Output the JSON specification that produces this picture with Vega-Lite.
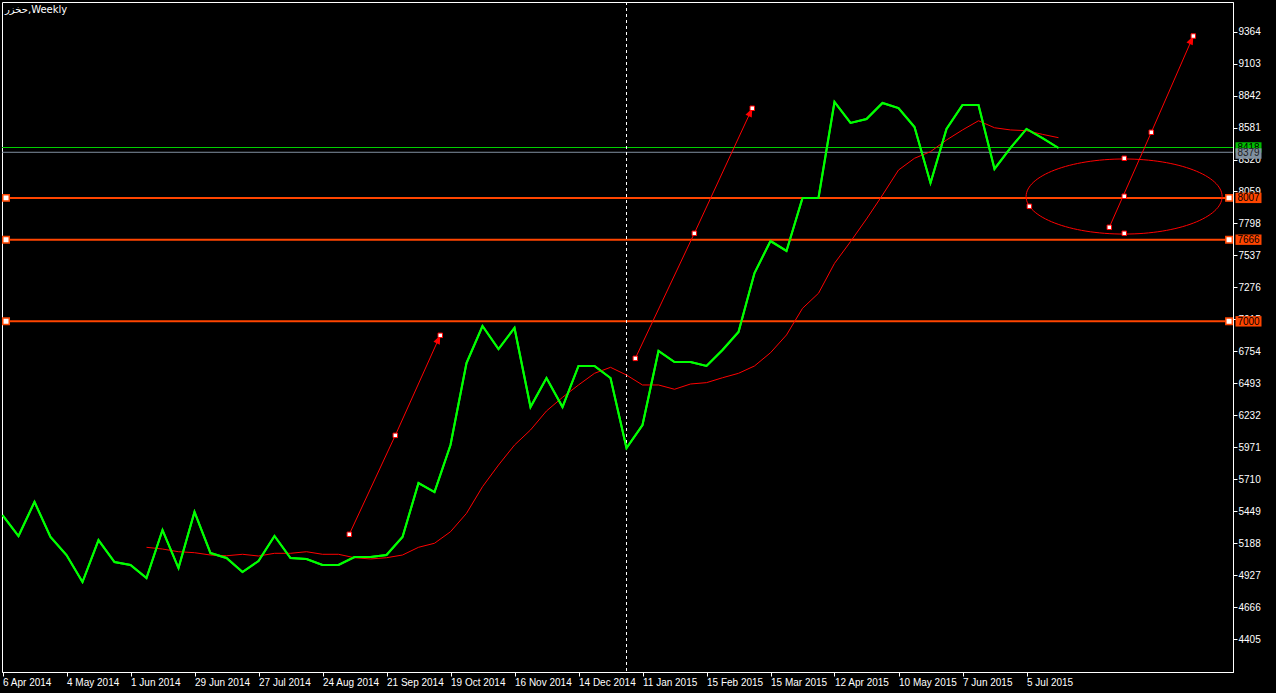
{
  "$schema": "https://vega.github.io/schema/vega-lite/v6.json",
  "width": 1231,
  "height": 670,
  "autosize": {"type": "none"},
  "padding": {"left": 2, "top": 2, "right": 43, "bottom": 21},
  "background": "#000000",
  "config": {
    "view": {"stroke": "#ffffff", "strokeWidth": 1, "fill": "#000000"},
    "axis": {"grid": false, "domainColor": "#ffffff", "tickColor": "#ffffff", "labelColor": "#ffffff", "labelFont": "Liberation Sans", "labelFontSize": 10, "tickSize": 4, "labelPadding": 1, "labelOverlap": false, "labelFlush": false, "labelBound": false, "title": null}
  },
  "title": {"text": "حخزر,Weekly", "anchor": "start", "frame": "group", "orient": "top", "baseline": "top", "offset": -13, "dx": 3, "color": "#ffffff", "font": "DejaVu Sans", "fontSize": 10, "fontWeight": "normal"},
  "datasets": {
    "price": [
      {"i": 0, "date": "2014-04-06", "v": 5420}, {"i": 1, "date": "2014-04-13", "v": 5249}, {"i": 2, "date": "2014-04-20", "v": 5527}, {"i": 3, "date": "2014-04-27", "v": 5241},
      {"i": 4, "date": "2014-05-04", "v": 5094}, {"i": 5, "date": "2014-05-11", "v": 4874}, {"i": 6, "date": "2014-05-18", "v": 5216}, {"i": 7, "date": "2014-05-25", "v": 5037},
      {"i": 8, "date": "2014-06-01", "v": 5013}, {"i": 9, "date": "2014-06-08", "v": 4907}, {"i": 10, "date": "2014-06-15", "v": 5298}, {"i": 11, "date": "2014-06-22", "v": 4988},
      {"i": 12, "date": "2014-06-29", "v": 5445}, {"i": 13, "date": "2014-07-06", "v": 5110}, {"i": 14, "date": "2014-07-13", "v": 5070}, {"i": 15, "date": "2014-07-20", "v": 4955},
      {"i": 16, "date": "2014-07-27", "v": 5045}, {"i": 17, "date": "2014-08-03", "v": 5249}, {"i": 18, "date": "2014-08-10", "v": 5070}, {"i": 19, "date": "2014-08-17", "v": 5062},
      {"i": 20, "date": "2014-08-24", "v": 5013}, {"i": 21, "date": "2014-08-31", "v": 5013}, {"i": 22, "date": "2014-09-07", "v": 5078}, {"i": 23, "date": "2014-09-14", "v": 5078},
      {"i": 24, "date": "2014-09-21", "v": 5094}, {"i": 25, "date": "2014-09-28", "v": 5241}, {"i": 26, "date": "2014-10-05", "v": 5681}, {"i": 27, "date": "2014-10-12", "v": 5608},
      {"i": 28, "date": "2014-10-19", "v": 5991}, {"i": 29, "date": "2014-10-26", "v": 6660}, {"i": 30, "date": "2014-11-02", "v": 6962}, {"i": 31, "date": "2014-11-09", "v": 6774},
      {"i": 32, "date": "2014-11-16", "v": 6946}, {"i": 33, "date": "2014-11-23", "v": 6301}, {"i": 34, "date": "2014-11-30", "v": 6538}, {"i": 35, "date": "2014-12-07", "v": 6301},
      {"i": 36, "date": "2014-12-14", "v": 6636}, {"i": 37, "date": "2014-12-21", "v": 6636}, {"i": 38, "date": "2014-12-28", "v": 6538}, {"i": 39, "date": "2015-01-04", "v": 5967},
      {"i": 40, "date": "2015-01-11", "v": 6154}, {"i": 41, "date": "2015-01-25", "v": 6758}, {"i": 42, "date": "2015-02-01", "v": 6668}, {"i": 43, "date": "2015-02-08", "v": 6668},
      {"i": 44, "date": "2015-02-15", "v": 6636}, {"i": 45, "date": "2015-02-22", "v": 6766}, {"i": 46, "date": "2015-03-01", "v": 6913}, {"i": 47, "date": "2015-03-08", "v": 7394},
      {"i": 48, "date": "2015-03-15", "v": 7655}, {"i": 49, "date": "2015-03-22", "v": 7574}, {"i": 50, "date": "2015-03-29", "v": 8006}, {"i": 51, "date": "2015-04-05", "v": 8006},
      {"i": 52, "date": "2015-04-12", "v": 8789}, {"i": 53, "date": "2015-04-19", "v": 8618}, {"i": 54, "date": "2015-04-26", "v": 8650}, {"i": 55, "date": "2015-05-03", "v": 8781},
      {"i": 56, "date": "2015-05-10", "v": 8740}, {"i": 57, "date": "2015-05-17", "v": 8585}, {"i": 58, "date": "2015-05-24", "v": 8128}, {"i": 59, "date": "2015-05-31", "v": 8569},
      {"i": 60, "date": "2015-06-07", "v": 8765}, {"i": 61, "date": "2015-06-14", "v": 8765}, {"i": 62, "date": "2015-06-21", "v": 8243}, {"i": 63, "date": "2015-06-28", "v": 8414},
      {"i": 64, "date": "2015-07-05", "v": 8569}, {"i": 65, "date": "2015-07-12", "v": 8495}, {"i": 66, "date": "2015-07-19", "v": 8414}
    ],
    "ma": [
      {"i": 9, "v": 5157}, {"i": 10, "v": 5143}, {"i": 11, "v": 5121}, {"i": 12, "v": 5113}, {"i": 13, "v": 5094}, {"i": 14, "v": 5088},
      {"i": 15, "v": 5100}, {"i": 16, "v": 5086}, {"i": 17, "v": 5108}, {"i": 18, "v": 5108}, {"i": 19, "v": 5121}, {"i": 20, "v": 5100},
      {"i": 21, "v": 5100}, {"i": 22, "v": 5072}, {"i": 23, "v": 5062}, {"i": 24, "v": 5072}, {"i": 25, "v": 5094}, {"i": 26, "v": 5157},
      {"i": 27, "v": 5190}, {"i": 28, "v": 5284}, {"i": 29, "v": 5434}, {"i": 30, "v": 5651}, {"i": 31, "v": 5828}, {"i": 32, "v": 5991},
      {"i": 33, "v": 6114}, {"i": 34, "v": 6269}, {"i": 35, "v": 6380}, {"i": 36, "v": 6481}, {"i": 37, "v": 6576}, {"i": 38, "v": 6625},
      {"i": 39, "v": 6562}, {"i": 40, "v": 6481}, {"i": 41, "v": 6481}, {"i": 42, "v": 6446}, {"i": 43, "v": 6489}, {"i": 44, "v": 6500},
      {"i": 45, "v": 6540}, {"i": 46, "v": 6576}, {"i": 47, "v": 6636}, {"i": 48, "v": 6744}, {"i": 49, "v": 6889}, {"i": 50, "v": 7106},
      {"i": 51, "v": 7229}, {"i": 52, "v": 7473}, {"i": 53, "v": 7650}, {"i": 54, "v": 7835}, {"i": 55, "v": 8030}, {"i": 56, "v": 8234},
      {"i": 57, "v": 8330}, {"i": 58, "v": 8384}, {"i": 59, "v": 8479}, {"i": 60, "v": 8561}, {"i": 61, "v": 8636}, {"i": 62, "v": 8579},
      {"i": 63, "v": 8561}, {"i": 64, "v": 8555}, {"i": 65, "v": 8525}, {"i": 66, "v": 8498}
    ],
    "arrows": [
      {"id": "a1", "k": 0, "pt": "start", "i": 21.675, "v": 5263}, {"id": "a1", "k": 1, "pt": "mid", "i": 24.55, "v": 6070}, {"id": "a1", "k": 2, "pt": "end", "i": 27.36, "v": 6886},
      {"id": "a2", "k": 0, "pt": "start", "i": 39.55, "v": 6698}, {"id": "a2", "k": 1, "pt": "mid", "i": 43.24, "v": 7718}, {"id": "a2", "k": 2, "pt": "end", "i": 46.86, "v": 8738},
      {"id": "a3", "k": 0, "pt": "start", "i": 69.175, "v": 7767}, {"id": "a3", "k": 1, "pt": "mid", "i": 71.8, "v": 8542}, {"id": "a3", "k": 2, "pt": "end", "i": 74.425, "v": 9327}
    ],
    "ellipse": [{"i": 70.1, "v": 8018}],
    "ellipseAnchors": [
      {"i": 70.11, "v": 8330}, {"i": 70.11, "v": 7718}, {"i": 70.11, "v": 8020}, {"i": 64.18, "v": 7938}
    ],
    "hlines": [
      {"v": 8007, "label": "8007"}, {"v": 7666, "label": "7666"}, {"v": 7000, "label": "7000"}
    ],
    "greenLine": [{"v": 8418, "label": "8418"}],
    "grayLine": [{"v": 8379, "label": "8379"}],
    "separator": [{"i": 39}]
  },
  "layer": [
    {
      "data": {"name": "price"},
      "mark": {"type": "line", "color": "#00ff00", "strokeWidth": 2, "strokeJoin": "miter"},
      "encoding": {
        "x": {"field": "i", "type": "quantitative", "scale": {"domain": [-0.03125, 76.90625], "nice": false, "zero": false},
          "axis": {"orient": "bottom", "values": [0, 4, 8, 12, 16, 20, 24, 28, 32, 36, 40, 44, 48, 52, 56, 60, 64], "tickCount": 40,
            "labelExpr": "['6 Apr 2014','4 May 2014','1 Jun 2014','29 Jun 2014','27 Jul 2014','24 Aug 2014','21 Sep 2014','19 Oct 2014','16 Nov 2014','14 Dec 2014','11 Jan 2015','15 Feb 2015','15 Mar 2015','12 Apr 2015','10 May 2015','7 Jun 2015','5 Jul 2015'][round(datum.value/4)]",
            "labelAlign": "left", "labelBaseline": "top", "labelOverlap": false, "title": null}},
        "y": {"field": "v", "type": "quantitative", "scale": {"domain": [4139.92, 9604.61], "nice": false, "zero": false},
          "axis": {"orient": "right", "values": [4405, 4666, 4927, 5188, 5449, 5710, 5971, 6232, 6493, 6754, 7015, 7276, 7537, 7798, 8059, 8320, 8581, 8842, 9103, 9364], "tickCount": 40,
            "labelAlign": "left", "labelBaseline": "middle", "labelOverlap": false, "format": "d", "title": null}}
      }
    },
    {
      "data": {"name": "hlines"},
      "mark": {"type": "rule", "color": "#ff4500", "strokeWidth": 2},
      "encoding": {"y": {"field": "v", "type": "quantitative"}}
    },
    {
      "data": {"name": "greenLine"},
      "mark": {"type": "rule", "color": "#00d000", "strokeWidth": 1.2},
      "encoding": {"y": {"field": "v", "type": "quantitative"}}
    },
    {
      "data": {"name": "grayLine"},
      "mark": {"type": "rule", "color": "#8090a0", "strokeWidth": 1},
      "encoding": {"y": {"field": "v", "type": "quantitative"}}
    },
    {
      "data": {"name": "separator"},
      "mark": {"type": "rule", "color": "#ffffff", "strokeWidth": 1, "strokeDash": [3, 3]},
      "encoding": {"x": {"field": "i", "type": "quantitative"}}
    },
    {
      "data": {"name": "ma"},
      "mark": {"type": "line", "color": "#ff0000", "strokeWidth": 1},
      "encoding": {"x": {"field": "i", "type": "quantitative"}, "y": {"field": "v", "type": "quantitative"}}
    },
    {
      "data": {"name": "price"},
      "mark": {"type": "line", "color": "#00ff00", "strokeWidth": 2, "strokeJoin": "miter"},
      "encoding": {"x": {"field": "i", "type": "quantitative"}, "y": {"field": "v", "type": "quantitative"}}
    },
    {
      "data": {"name": "arrows"},
      "mark": {"type": "line", "color": "#ff0000", "strokeWidth": 1},
      "encoding": {"x": {"field": "i", "type": "quantitative"}, "y": {"field": "v", "type": "quantitative"}, "detail": {"field": "id"}, "order": {"field": "k"}}
    },
    {
      "data": {"name": "arrows"},
      "transform": [{"filter": "datum.pt == 'end'"}],
      "mark": {"type": "point", "shape": "M0,0L-0.4,1L0.4,1Z", "size": 300, "filled": true, "color": "#ff0000", "opacity": 1},
      "encoding": {"x": {"field": "i", "type": "quantitative"}, "y": {"field": "v", "type": "quantitative"},
        "angle": {"field": "id", "type": "nominal", "scale": {"domain": ["a1", "a2", "a3"], "range": [24.6, 25.1, 23.7]}, "legend": null}}
    },
    {
      "data": {"name": "ellipse"},
      "mark": {"type": "point", "shape": "M-1,0A1,0.383,0,1,1,1,0A1,0.383,0,1,1,-1,0Z", "size": 38416, "filled": false, "stroke": "#ff0000", "strokeWidth": 1, "opacity": 1},
      "encoding": {"x": {"field": "i", "type": "quantitative"}, "y": {"field": "v", "type": "quantitative"}}
    },
    {
      "data": {"name": "arrows"},
      "mark": {"type": "point", "shape": "square", "size": 20, "filled": true, "fill": "#ffffff", "stroke": "#ff0000", "strokeWidth": 1, "opacity": 1},
      "encoding": {"x": {"field": "i", "type": "quantitative"}, "y": {"field": "v", "type": "quantitative"}}
    },
    {
      "data": {"name": "ellipseAnchors"},
      "mark": {"type": "point", "shape": "square", "size": 20, "filled": true, "fill": "#ffffff", "stroke": "#ff0000", "strokeWidth": 1, "opacity": 1},
      "encoding": {"x": {"field": "i", "type": "quantitative"}, "y": {"field": "v", "type": "quantitative"}}
    },
    {
      "data": {"name": "hlines"},
      "mark": {"type": "point", "shape": "square", "size": 42, "filled": true, "fill": "#ffffff", "stroke": "#ff4500", "strokeWidth": 1.5, "opacity": 1},
      "encoding": {"x": {"datum": 0.22, "type": "quantitative"}, "y": {"field": "v", "type": "quantitative"}}
    },
    {
      "data": {"name": "hlines"},
      "mark": {"type": "point", "shape": "square", "size": 42, "filled": true, "fill": "#ffffff", "stroke": "#ff4500", "strokeWidth": 1.5, "opacity": 1},
      "encoding": {"x": {"datum": 76.66, "type": "quantitative"}, "y": {"field": "v", "type": "quantitative"}}
    },
    {
      "data": {"name": "greenLine"},
      "mark": {"type": "point", "shape": "M-1,-0.4H1V0.4H-1Z", "size": 676, "filled": true, "color": "#00c000", "opacity": 1},
      "encoding": {"x": {"datum": 77.875, "type": "quantitative"}, "y": {"field": "v", "type": "quantitative"}}
    },
    {
      "data": {"name": "greenLine"},
      "mark": {"type": "text", "color": "#000000", "font": "Liberation Sans", "fontSize": 10, "align": "center", "baseline": "middle", "dy": 1},
      "encoding": {"x": {"datum": 77.875, "type": "quantitative"}, "y": {"field": "v", "type": "quantitative"}, "text": {"field": "label"}}
    },
    {
      "data": {"name": "grayLine"},
      "mark": {"type": "point", "shape": "M-1,-0.3H1V0.5H-1Z", "size": 676, "filled": true, "color": "#8090a0", "opacity": 1},
      "encoding": {"x": {"datum": 77.875, "type": "quantitative"}, "y": {"field": "v", "type": "quantitative"}}
    },
    {
      "data": {"name": "grayLine"},
      "mark": {"type": "text", "color": "#202020", "font": "Liberation Sans", "fontSize": 10, "align": "center", "baseline": "middle", "dy": 1},
      "encoding": {"x": {"datum": 77.875, "type": "quantitative"}, "y": {"field": "v", "type": "quantitative"}, "text": {"field": "label"}}
    },
    {
      "data": {"name": "hlines"},
      "mark": {"type": "point", "shape": "M-1,-0.4H1V0.4H-1Z", "size": 676, "filled": true, "color": "#ff4500", "opacity": 1},
      "encoding": {"x": {"datum": 77.875, "type": "quantitative"}, "y": {"field": "v", "type": "quantitative"}}
    },
    {
      "data": {"name": "hlines"},
      "mark": {"type": "text", "color": "#000000", "font": "Liberation Sans", "fontSize": 10, "align": "center", "baseline": "middle", "dy": 0.5},
      "encoding": {"x": {"datum": 77.875, "type": "quantitative"}, "y": {"field": "v", "type": "quantitative"}, "text": {"field": "label"}}
    }
  ]
}
